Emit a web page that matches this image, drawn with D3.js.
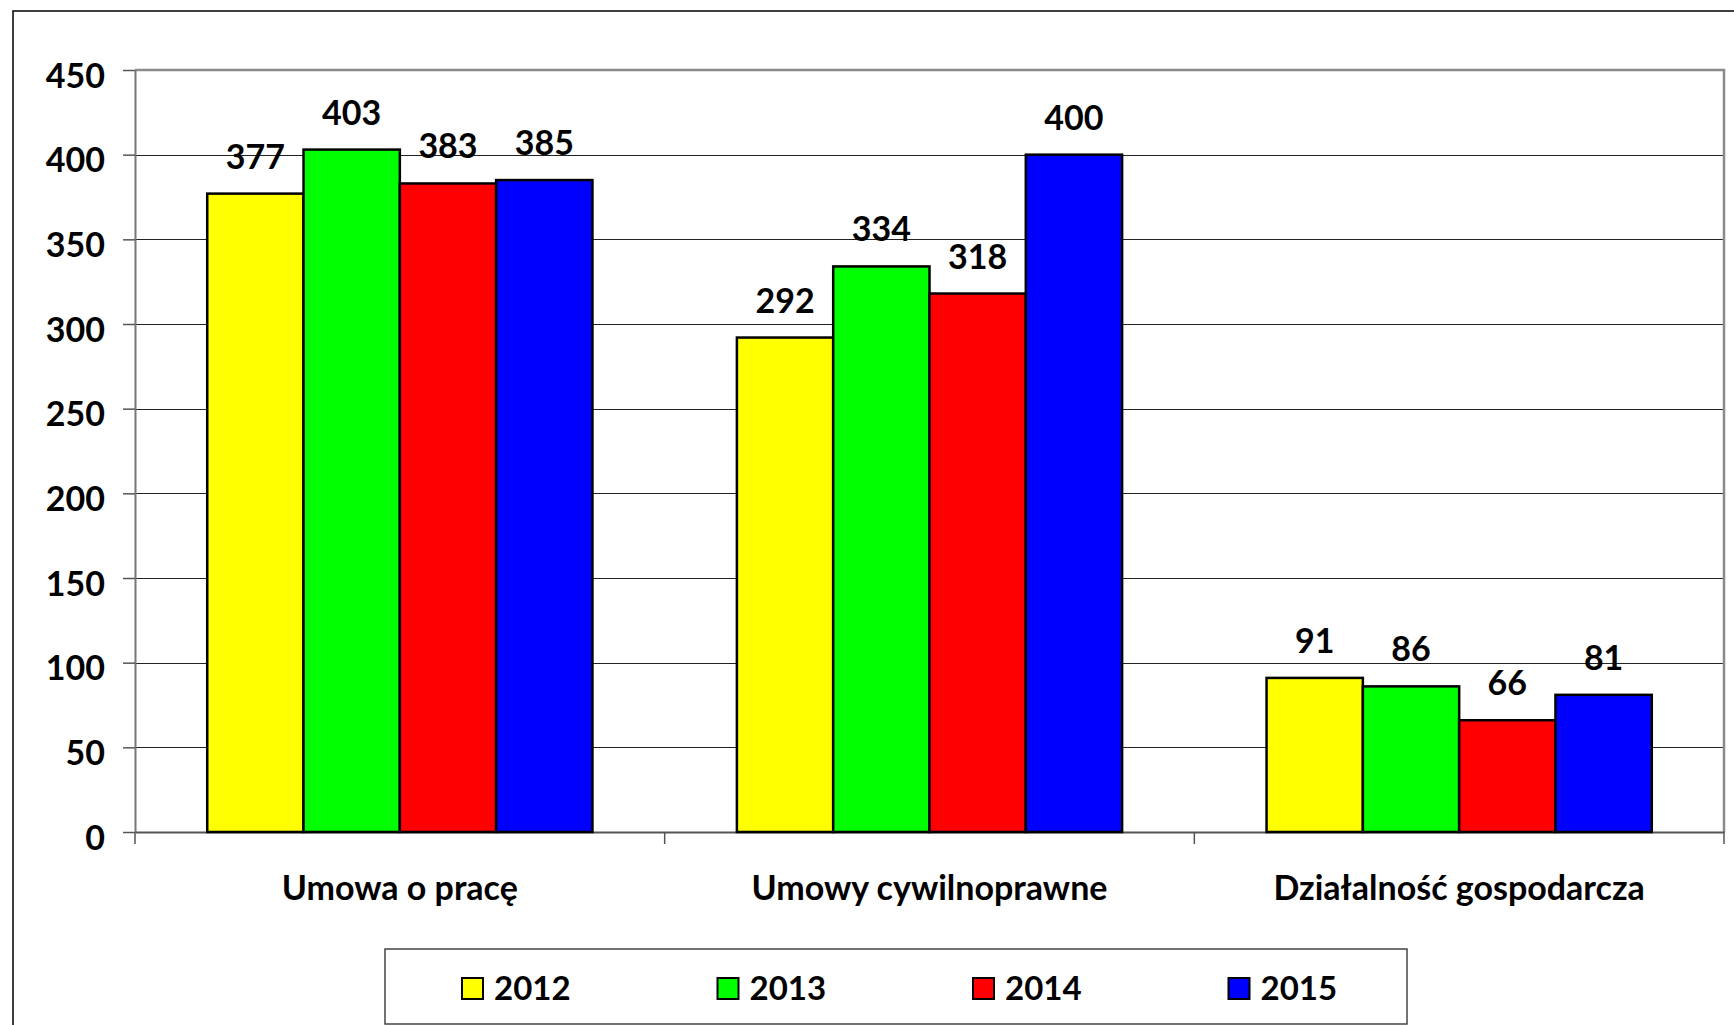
<!DOCTYPE html>
<html>
<head>
<meta charset="utf-8">
<script src="https://cdn.jsdelivr.net/npm/d3@7"></script>
<style>
  body { margin: 0; background: #fff; }
  svg text { font-family: Lato, "Open Sans", sans-serif; font-weight: bold; fill: #000; }
</style>
</head>
<body>
<div id="chart"></div>
<script>
// data
var categories = ["Umowa o pracę", "Umowy cywilnoprawne", "Działalność gospodarcza"];
var years = ["2012", "2013", "2014", "2015"];
var values2012 = [377, 292, 91];
var values2013 = [403, 334, 86];
var values2014 = [383, 318, 66];
var values2015 = [385, 400, 81];
var yTicks = [0, 50, 100, 150, 200, 250, 300, 350, 400, 450];
var colors = ["#ffff00", "#00ff00", "#ff0000", "#0000ff"];

var series = [values2012, values2013, values2014, values2015];

var W = 1734, H = 1025;
var plot = {left: 135, right: 1724, top: 70, bottom: 832};

var svg = d3.select("#chart").append("svg")
  .attr("width", W)
  .attr("height", H);

// outer chart frame
svg.append("rect")
  .attr("x", 13).attr("y", 11)
  .attr("width", W + 10).attr("height", H + 10)
  .attr("fill", "none")
  .attr("stroke", "#000")
  .attr("stroke-width", 1.5);

var x0 = d3.scaleBand().domain(categories).range([plot.left, plot.right]);
var x1 = d3.scaleBand().domain(years).range([0, x0.bandwidth()]).paddingOuter(0.75);
var y = d3.scaleLinear().domain([0, 450]).range([plot.bottom, plot.top]);

// gridlines
svg.append("g")
  .selectAll("line")
  .data(yTicks.slice(1, -1))
  .enter().append("line")
  .attr("x1", plot.left).attr("x2", plot.right)
  .attr("y1", function(d) { return Math.round(y(d)) + 0.5; })
  .attr("y2", function(d) { return Math.round(y(d)) + 0.5; })
  .attr("stroke", "#222")
  .attr("stroke-width", 1);

// plot frame top + right (gray)
svg.append("path")
  .attr("d", "M" + plot.left + "," + plot.top + "H" + plot.right + "V" + plot.bottom)
  .attr("fill", "none")
  .attr("stroke", "#8a8a8a")
  .attr("stroke-width", 2.5);

// y axis
var yAxis = d3.axisLeft(y).tickValues(yTicks).tickSize(12).tickSizeOuter(0).tickPadding(18);
var gy = svg.append("g")
  .attr("transform", "translate(" + plot.left + ",0)")
  .call(yAxis);
gy.select(".domain").attr("stroke", "#777").attr("stroke-width", 2);
gy.selectAll(".tick line").attr("stroke", "#555").attr("stroke-width", 1.5);
gy.selectAll(".tick text")
  .style("font-family", "Lato, sans-serif")
  .style("font-weight", "bold")
  .style("font-size", "34px")
  .attr("dy", "0.5em")
  .attr("fill", "#000");

// x axis with ticks at category boundaries
var xAxis = d3.axisBottom(x0).tickSize(0).tickFormat("");
var gx = svg.append("g")
  .attr("transform", "translate(0," + plot.bottom + ")")
  .call(xAxis);
gx.select(".domain").attr("stroke", "#555").attr("stroke-width", 2);
gx.selectAll(".tick").remove();

var bounds = categories.map(function(c) { return x0(c); }).concat([plot.right]);
svg.append("g")
  .selectAll("line")
  .data(bounds)
  .enter().append("line")
  .attr("x1", function(d) { return d; }).attr("x2", function(d) { return d; })
  .attr("y1", plot.bottom).attr("y2", plot.bottom + 12)
  .attr("stroke", "#555")
  .attr("stroke-width", 1.5);

// category labels
svg.append("g")
  .selectAll("text")
  .data(categories)
  .enter().append("text")
  .attr("x", function(d) { return x0(d) + x0.bandwidth() / 2; })
  .attr("y", 900)
  .attr("text-anchor", "middle")
  .style("font-size", "34px")
  .text(function(d) { return d; });

// bars
var groups = svg.append("g")
  .selectAll("g")
  .data(categories)
  .enter().append("g")
  .attr("transform", function(d) { return "translate(" + x0(d) + ",0)"; });

groups.selectAll("rect")
  .data(function(d, i) {
    return years.map(function(yr, j) { return {year: yr, value: series[j][i], color: colors[j]}; });
  })
  .enter().append("rect")
  .attr("x", function(d) { return x1(d.year); })
  .attr("y", function(d) { return y(d.value); })
  .attr("width", x1.bandwidth())
  .attr("height", function(d) { return y(0) - y(d.value); })
  .attr("fill", function(d) { return d.color; })
  .attr("stroke", "#000")
  .attr("stroke-width", 2.5);

groups.selectAll("text")
  .data(function(d, i) {
    return years.map(function(yr, j) { return {year: yr, value: series[j][i]}; });
  })
  .enter().append("text")
  .attr("x", function(d) { return x1(d.year) + x1.bandwidth() / 2; })
  .attr("y", function(d) { return y(d.value) - 25; })
  .attr("text-anchor", "middle")
  .style("font-size", "34px")
  .text(function(d) { return d.value; });

// legend
var legend = svg.append("g");
legend.append("rect")
  .attr("x", 385).attr("y", 949)
  .attr("width", 1022).attr("height", 75)
  .attr("fill", "#fff")
  .attr("stroke", "#444")
  .attr("stroke-width", 1.5);

var items = legend.selectAll("g.item")
  .data(years)
  .enter().append("g")
  .attr("class", "item")
  .attr("transform", function(d, i) { return "translate(" + (462 + i * 255.5) + ",978)"; });

items.append("rect")
  .attr("width", 21).attr("height", 21)
  .attr("fill", function(d, i) { return colors[i]; })
  .attr("stroke", "#000")
  .attr("stroke-width", 2);

items.append("text")
  .attr("x", 32)
  .attr("y", 22)
  .style("font-size", "33px")
  .text(function(d) { return d; });
</script>
</body>
</html>
